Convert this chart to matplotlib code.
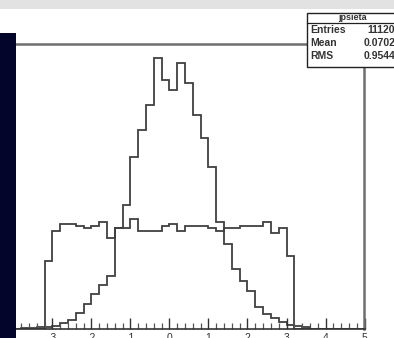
import numpy as np
import matplotlib
matplotlib.use("Agg")
import matplotlib.pyplot as plt
from matplotlib.patches import Rectangle
from matplotlib.lines import Line2D
from matplotlib.ticker import MultipleLocator

plt.rcParams['font.family'] = ['Liberation Sans', 'DejaVu Sans']
plt.rcParams['axes.unicode_minus'] = False

# 50 bins of 0.2 between -5 and 5
bin_edges = np.linspace(-5.0, 5.0, 51)

# jpsieta: reconstructed J/psi pseudorapidity
jpsieta_counts = [
    0, 0, 0, 0, 0, 0, 3, 3, 7, 7,
    10, 21, 31, 55, 86, 120, 151, 182, 344, 423,
    588, 681, 767, 929, 853, 819, 912, 843, 733, 654,
    554, 365, 292, 206, 165, 131, 76, 52, 38, 24,
    14, 10, 7, 0, 0, 0, 0, 0, 0, 0,
]

# muon pseudorapidity, flat inside the acceptance
mueta_counts = [
    0, 0, 0, 0, 0, 0, 0, 0, 0, 234,
    337, 361, 361, 351, 347, 354, 365, 310, 347, 344,
    378, 337, 337, 337, 351, 361, 337, 354, 354, 351,
    344, 337, 347, 347, 351, 354, 354, 365, 330, 344,
    251, 0, 0, 0, 0, 0, 0, 0, 0, 0,
]

stats_title = "jpsieta"
stats_rows = [("Entries", "11120"), ("Mean", "0.0702"), ("RMS", "0.9544")]

W, H = 394, 338
fig = plt.figure(figsize=(W / 100, H / 100), dpi=100)

# frame: x = 5 sits at px 364.5, 39 px per unit, bottom at px 329, top at px 44
x0_px = 169.5 - 5 * 39
ax = fig.add_axes([x0_px / W, (H - 329) / H, 390 / W, 285 / H])

line_kw = dict(color='#404040', linewidth=1.3)
ax.stairs(mueta_counts, bin_edges, **line_kw)
ax.stairs(jpsieta_counts, bin_edges, **line_kw)

ax.set_xlim(-5, 5)
ax.set_ylim(0, 1.05 * max(jpsieta_counts))

ax.xaxis.set_major_locator(MultipleLocator(1))
ax.xaxis.set_minor_locator(MultipleLocator(0.2))
ax.tick_params(axis='x', which='major', direction='in', length=8, width=1.0,
               color='#333333', labelsize=7.5, pad=3, labelcolor='#333333')
ax.tick_params(axis='x', which='minor', direction='in', length=4, width=0.9,
               color='#555555')
ax.tick_params(axis='y', left=False, labelleft=False)
ax.set_xticks(range(-4, 6))
ax.set_xticklabels([str(v) for v in range(-4, 6)])

for side in ['top', 'right']:
    ax.spines[side].set_color('#6f6f6f')
    ax.spines[side].set_linewidth(1.8)
ax.spines['bottom'].set_color('#333333')
ax.spines['bottom'].set_linewidth(1.2)

# light band along the top edge
fig.patches.append(Rectangle((0, 1 - 9 / H), 1, 9 / H, transform=fig.transFigure,
                             facecolor='#e2e2e2', edgecolor='none', zorder=3))
# dark strip on the left
fig.patches.append(Rectangle((0, 0), 16 / W, (H - 33) / H, transform=fig.transFigure,
                             facecolor='#03052a', edgecolor='none', zorder=3))

# statistics box
bx0, bx1 = 307, 402
by0, by1 = 13, 67
fig.patches.append(Rectangle((bx0 / W, 1 - by1 / H), (bx1 - bx0) / W, (by1 - by0) / H,
                             transform=fig.transFigure, facecolor='white',
                             edgecolor='#222222', linewidth=1.0, zorder=4))
fig.lines.append(Line2D([bx0 / W, bx1 / W], [1 - 22.5 / H, 1 - 22.5 / H],
                        transform=fig.transFigure, color='#222222', linewidth=0.9,
                        zorder=5))
fig.text(352 / W, 1 - 17.5 / H, stats_title, fontsize=6.5, fontweight='bold',
         ha='center', va='center', color='#333333', zorder=6)
for k, (name, val) in enumerate(stats_rows):
    yc = 1 - (30 + 13 * k) / H
    fig.text(310 / W, yc, name, fontsize=7.5, fontweight='bold', ha='left',
             va='center', color='#333333', zorder=6)
    fig.text(395 / W, yc, val, fontsize=7.5, fontweight='bold', ha='right',
             va='center', color='#333333', zorder=6)

fig.savefig('out.png', dpi=100)
